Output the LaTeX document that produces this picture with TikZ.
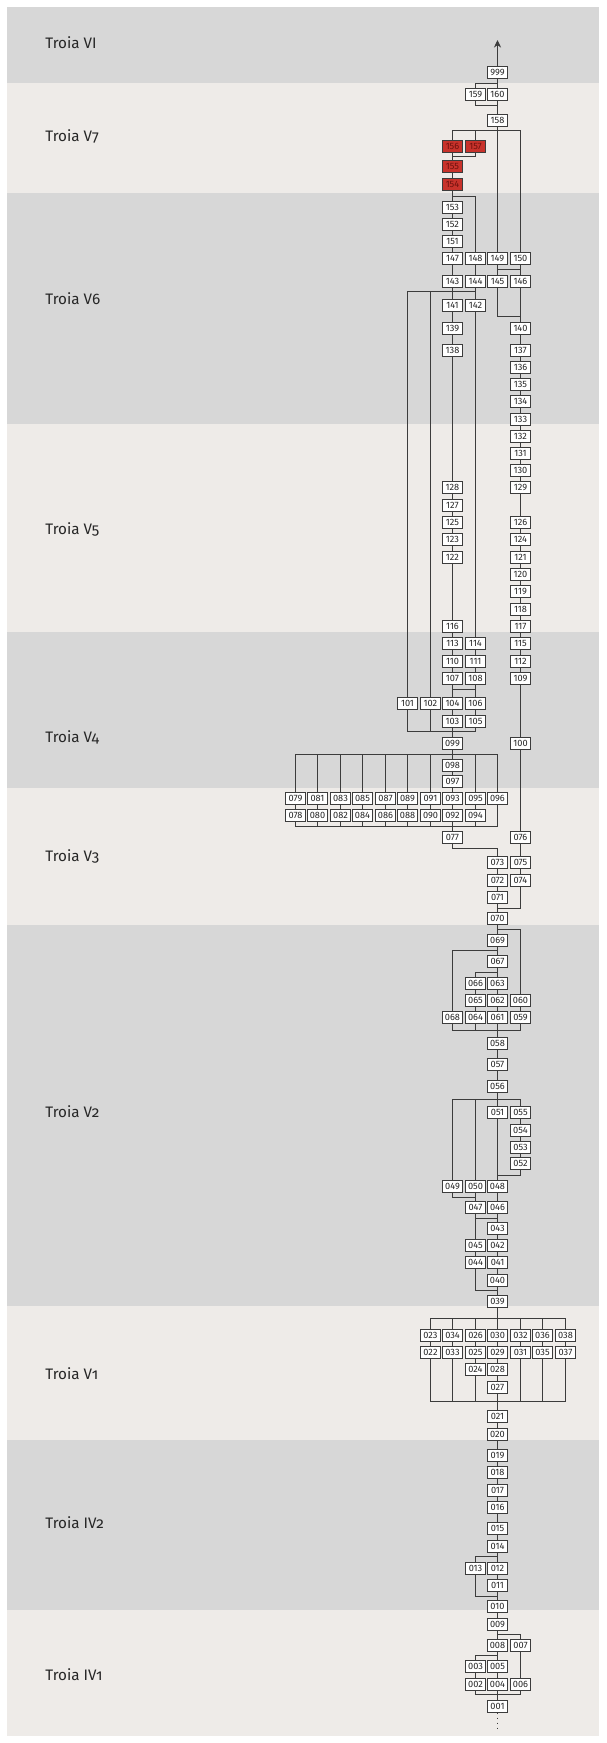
\documentclass[tikz,border=0pt]{standalone}
\usepackage{fontspec}
\setmainfont{Fira Sans}
\newfontfamily\labfont[Numbers=OldStyle]{Fira Sans}
\usetikzlibrary{arrows.meta}
\definecolor{bandg}{HTML}{D7D7D7}
\definecolor{bandl}{HTML}{EEEBE8}
\definecolor{linec}{HTML}{3C3C3C}
\definecolor{redf}{HTML}{C8322B}
\definecolor{redt}{HTML}{6E120E}
\tikzset{
  bx/.style={draw=linec, fill=white, line width=0.5pt, minimum width=10pt, minimum height=6pt,
    inner sep=0pt, outer sep=0pt, font=\fontsize{4.6pt}{5pt}\selectfont, text=black!85},
  rbx/.style={bx, fill=redf, text=redt},
  ln/.style={draw=linec, line width=0.5pt},
  lab/.style={anchor=base west, inner sep=0pt, font=\labfont\fontsize{7.6pt}{8pt}\selectfont, text=black!85}
}
\begin{document}
\begin{tikzpicture}[x=0.5pt,y=-0.5pt]
\useasboundingbox (0,0) rectangle (606,1743);
% bands
\fill[white] (0,0) rectangle (606,1743);
\fill[bandg] (7,7) rectangle (599,83);
\fill[bandl] (7,83) rectangle (599,193);
\fill[bandg] (7,193) rectangle (599,424);
\fill[bandl] (7,424) rectangle (599,632);
\fill[bandg] (7,632) rectangle (599,788);
\fill[bandl] (7,788) rectangle (599,925);
\fill[bandg] (7,925) rectangle (599,1306);
\fill[bandl] (7,1306) rectangle (599,1440);
\fill[bandg] (7,1440) rectangle (599,1610);
\fill[bandl] (7,1610) rectangle (599,1736);
% labels
\node[lab] (lVI) at (45,49) {Troia VI};
\node[lab] (lV7) at (45,142) {Troia V7};
\node[lab] (lV6) at (45,305) {Troia V6};
\node[lab] (lV5) at (45,534) {Troia V5};
\node[lab] (lV4) at (45,742) {Troia V4};
\node[lab] (lV3) at (45,861) {Troia V3};
\node[lab] (lV2) at (45,1117) {Troia V2};
\node[lab] (lV1) at (45,1379) {Troia V1};
\node[lab] (lIV2) at (45,1528) {Troia IV2};
\node[lab] (lIV1) at (45,1680) {Troia IV1};
% boxes
\node[bx] (b999) at (497.5,72.5) {999};
\node[bx] (b159) at (475.5,94.5) {159};
\node[bx] (b160) at (497.5,94.5) {160};
\node[bx] (b158) at (497.5,120.5) {158};
\node[rbx] (b156) at (452.5,146.5) {156};
\node[rbx] (b157) at (475.5,146.5) {157};
\node[rbx] (b155) at (452.5,166.5) {155};
\node[rbx] (b154) at (452.5,184.5) {154};
\node[bx] (b153) at (452.5,207.5) {153};
\node[bx] (b152) at (452.5,224.5) {152};
\node[bx] (b151) at (452.5,241.5) {151};
\node[bx] (b147) at (452.5,258.5) {147};
\node[bx] (b148) at (475.5,258.5) {148};
\node[bx] (b149) at (497.5,258.5) {149};
\node[bx] (b150) at (520.5,258.5) {150};
\node[bx] (b143) at (452.5,281.5) {143};
\node[bx] (b144) at (475.5,281.5) {144};
\node[bx] (b145) at (497.5,281.5) {145};
\node[bx] (b146) at (520.5,281.5) {146};
\node[bx] (b141) at (452.5,305.5) {141};
\node[bx] (b142) at (475.5,305.5) {142};
\node[bx] (b139) at (452.5,328.5) {139};
\node[bx] (b140) at (520.5,328.5) {140};
\node[bx] (b138) at (452.5,350.5) {138};
\node[bx] (b137) at (520.5,350.5) {137};
\node[bx] (b136) at (520.5,367.5) {136};
\node[bx] (b135) at (520.5,384.5) {135};
\node[bx] (b134) at (520.5,401.5) {134};
\node[bx] (b133) at (520.5,419.5) {133};
\node[bx] (b132) at (520.5,436.5) {132};
\node[bx] (b131) at (520.5,453.5) {131};
\node[bx] (b130) at (520.5,470.5) {130};
\node[bx] (b128) at (452.5,487.5) {128};
\node[bx] (b129) at (520.5,487.5) {129};
\node[bx] (b127) at (452.5,505.5) {127};
\node[bx] (b125) at (452.5,522.5) {125};
\node[bx] (b126) at (520.5,522.5) {126};
\node[bx] (b123) at (452.5,539.5) {123};
\node[bx] (b124) at (520.5,539.5) {124};
\node[bx] (b122) at (452.5,557.5) {122};
\node[bx] (b121) at (520.5,557.5) {121};
\node[bx] (b120) at (520.5,574.5) {120};
\node[bx] (b119) at (520.5,591.5) {119};
\node[bx] (b118) at (520.5,609.5) {118};
\node[bx] (b116) at (452.5,626.5) {116};
\node[bx] (b117) at (520.5,626.5) {117};
\node[bx] (b113) at (452.5,643.5) {113};
\node[bx] (b114) at (475.5,643.5) {114};
\node[bx] (b115) at (520.5,643.5) {115};
\node[bx] (b110) at (452.5,661.5) {110};
\node[bx] (b111) at (475.5,661.5) {111};
\node[bx] (b112) at (520.5,661.5) {112};
\node[bx] (b107) at (452.5,678.5) {107};
\node[bx] (b108) at (475.5,678.5) {108};
\node[bx] (b109) at (520.5,678.5) {109};
\node[bx] (b101) at (407.5,703.5) {101};
\node[bx] (b102) at (430.5,703.5) {102};
\node[bx] (b104) at (452.5,703.5) {104};
\node[bx] (b106) at (475.5,703.5) {106};
\node[bx] (b103) at (452.5,721.5) {103};
\node[bx] (b105) at (475.5,721.5) {105};
\node[bx] (b099) at (452.5,743.5) {099};
\node[bx] (b100) at (520.5,743.5) {100};
\node[bx] (b098) at (452.5,765.5) {098};
\node[bx] (b097) at (452.5,781.5) {097};
\node[bx] (b079) at (295.5,798.5) {079};
\node[bx] (b081) at (317.5,798.5) {081};
\node[bx] (b083) at (340.5,798.5) {083};
\node[bx] (b085) at (362.5,798.5) {085};
\node[bx] (b087) at (385.5,798.5) {087};
\node[bx] (b089) at (407.5,798.5) {089};
\node[bx] (b091) at (430.5,798.5) {091};
\node[bx] (b093) at (452.5,798.5) {093};
\node[bx] (b095) at (475.5,798.5) {095};
\node[bx] (b096) at (497.5,798.5) {096};
\node[bx] (b078) at (295.5,815.5) {078};
\node[bx] (b080) at (317.5,815.5) {080};
\node[bx] (b082) at (340.5,815.5) {082};
\node[bx] (b084) at (362.5,815.5) {084};
\node[bx] (b086) at (385.5,815.5) {086};
\node[bx] (b088) at (407.5,815.5) {088};
\node[bx] (b090) at (430.5,815.5) {090};
\node[bx] (b092) at (452.5,815.5) {092};
\node[bx] (b094) at (475.5,815.5) {094};
\node[bx] (b077) at (452.5,837.5) {077};
\node[bx] (b076) at (520.5,837.5) {076};
\node[bx] (b073) at (497.5,862.5) {073};
\node[bx] (b075) at (520.5,862.5) {075};
\node[bx] (b072) at (497.5,880.5) {072};
\node[bx] (b074) at (520.5,880.5) {074};
\node[bx] (b071) at (497.5,897.5) {071};
\node[bx] (b070) at (497.5,918.5) {070};
\node[bx] (b069) at (497.5,940.5) {069};
\node[bx] (b067) at (497.5,961.5) {067};
\node[bx] (b066) at (475.5,983.5) {066};
\node[bx] (b063) at (497.5,983.5) {063};
\node[bx] (b065) at (475.5,1000.5) {065};
\node[bx] (b062) at (497.5,1000.5) {062};
\node[bx] (b060) at (520.5,1000.5) {060};
\node[bx] (b068) at (452.5,1017.5) {068};
\node[bx] (b064) at (475.5,1017.5) {064};
\node[bx] (b061) at (497.5,1017.5) {061};
\node[bx] (b059) at (520.5,1017.5) {059};
\node[bx] (b058) at (497.5,1043.5) {058};
\node[bx] (b057) at (497.5,1064.5) {057};
\node[bx] (b056) at (497.5,1086.5) {056};
\node[bx] (b051) at (497.5,1112.5) {051};
\node[bx] (b055) at (520.5,1112.5) {055};
\node[bx] (b054) at (520.5,1130.5) {054};
\node[bx] (b053) at (520.5,1147.5) {053};
\node[bx] (b052) at (520.5,1163.5) {052};
\node[bx] (b049) at (452.5,1186.5) {049};
\node[bx] (b050) at (475.5,1186.5) {050};
\node[bx] (b048) at (497.5,1186.5) {048};
\node[bx] (b047) at (475.5,1207.5) {047};
\node[bx] (b046) at (497.5,1207.5) {046};
\node[bx] (b043) at (497.5,1228.5) {043};
\node[bx] (b045) at (475.5,1245.5) {045};
\node[bx] (b042) at (497.5,1245.5) {042};
\node[bx] (b044) at (475.5,1262.5) {044};
\node[bx] (b041) at (497.5,1262.5) {041};
\node[bx] (b040) at (497.5,1280.5) {040};
\node[bx] (b039) at (497.5,1301.5) {039};
\node[bx] (b023) at (430.5,1335.5) {023};
\node[bx] (b034) at (452.5,1335.5) {034};
\node[bx] (b026) at (475.5,1335.5) {026};
\node[bx] (b030) at (497.5,1335.5) {030};
\node[bx] (b032) at (520.5,1335.5) {032};
\node[bx] (b036) at (542.5,1335.5) {036};
\node[bx] (b038) at (565.5,1335.5) {038};
\node[bx] (b022) at (430.5,1352.5) {022};
\node[bx] (b033) at (452.5,1352.5) {033};
\node[bx] (b025) at (475.5,1352.5) {025};
\node[bx] (b029) at (497.5,1352.5) {029};
\node[bx] (b031) at (520.5,1352.5) {031};
\node[bx] (b035) at (542.5,1352.5) {035};
\node[bx] (b037) at (565.5,1352.5) {037};
\node[bx] (b024) at (475.5,1369.5) {024};
\node[bx] (b028) at (497.5,1369.5) {028};
\node[bx] (b027) at (497.5,1387.5) {027};
\node[bx] (b021) at (497.5,1416.5) {021};
\node[bx] (b020) at (497.5,1434.5) {020};
\node[bx] (b019) at (497.5,1455.5) {019};
\node[bx] (b018) at (497.5,1472.5) {018};
\node[bx] (b017) at (497.5,1490.5) {017};
\node[bx] (b016) at (497.5,1507.5) {016};
\node[bx] (b015) at (497.5,1528.5) {015};
\node[bx] (b014) at (497.5,1546.5) {014};
\node[bx] (b013) at (475.5,1568.5) {013};
\node[bx] (b012) at (497.5,1568.5) {012};
\node[bx] (b011) at (497.5,1585.5) {011};
\node[bx] (b010) at (497.5,1606.5) {010};
\node[bx] (b009) at (497.5,1624.5) {009};
\node[bx] (b008) at (497.5,1645.5) {008};
\node[bx] (b007) at (520.5,1645.5) {007};
\node[bx] (b003) at (475.5,1666.5) {003};
\node[bx] (b005) at (497.5,1666.5) {005};
\node[bx] (b002) at (475.5,1684.5) {002};
\node[bx] (b004) at (497.5,1684.5) {004};
\node[bx] (b006) at (520.5,1684.5) {006};
\node[bx] (b001) at (497.5,1706.5) {001};
\coordinate (top) at (497.5,40);
\coordinate (bot) at (497.5,1731);
% connectors
\draw[ln,-{Stealth[length=3.8pt,width=3.6pt]}] (b999) -- (top);
\draw[ln] (b999) -- (b160);
\draw[ln] (b159.north) |- (b999.south |- 0,83.5);
\draw[ln] (b160) -- (b158);
\draw[ln] (b159.south) |- (b158.north |- 0,105.5);
\draw[ln] (b156.north) |- (b150.north |- 0,130.5) -- (b150.north);
\draw[ln] (b157.north) -- (b157.north |- 0,130.5);
\draw[ln] (b158) -- (b149);
\draw[ln] (b156) -- (b155);
\draw[ln] (b157.south) |- (b155.north |- 0,156.5);
\draw[ln] (b155) -- (b154);
\draw[ln] (b154) -- (b153);
\draw[ln] (b154.south |- 0,196.5) -| (b148.north);
\draw[ln] (b153) -- (b152);
\draw[ln] (b152) -- (b151);
\draw[ln] (b151) -- (b147);
\draw[ln] (b147) -- (b143);
\draw[ln] (b148) -- (b144);
\draw[ln] (b149) -- (b145);
\draw[ln] (b150) -- (b146);
\draw[ln] (b149.south |- 0,269.5) -- (b150.south |- 0,269.5);
\draw[ln] (b101.north) |- (b142.north |- 0,291.5) -- (b142.north);
\draw[ln] (b102.north) -- (b102.north |- 0,291.5);
\draw[ln] (b143) -- (b141);
\draw[ln] (b144.south) -- (b144.south |- 0,291.5);
\draw[ln] (b145.south) |- (b140.north |- 0,316.5);
\draw[ln] (b146) -- (b140);
\foreach \a/\b in {141/139,139/138,138/128,128/127,127/125,125/123,123/122,122/116,116/113,113/110,110/107,
  142/114,114/111,111/108,
  140/137,137/136,136/135,135/134,134/133,133/132,132/131,131/130,130/129,129/126,126/124,124/121,121/120,
  120/119,119/118,118/117,117/115,115/112,112/109,109/100,100/076,076/075,075/074}
  {\draw[ln] (b\a) -- (b\b);}
\draw[ln] (b107) -- (b104);
\draw[ln] (b108) -- (b106);
\draw[ln] (b107.south |- 0,689.5) -- (b108.south |- 0,689.5);
\draw[ln] (b104) -- (b103);
\draw[ln] (b106) -- (b105);
\draw[ln] (b101.south) |- (b105.south |- 0,731.5) -- (b105.south);
\draw[ln] (b102.south) -- (b102.south |- 0,731.5);
\draw[ln] (b103) -- (b099);
\draw[ln] (b099) -- (b098);
\draw[ln] (b098) -- (b097);
\draw[ln] (b097) -- (b093);
\draw[ln] (b079.north) |- (b096.north |- 0,754.5) -- (b096.north);
\foreach \a in {081,083,085,087,089,091,095}
  {\draw[ln] (b\a.north) -- (b\a.north |- 0,754.5);}
\foreach \a/\b in {079/078,081/080,083/082,085/084,087/086,089/088,091/090,093/092,095/094}
  {\draw[ln] (b\a) -- (b\b);}
\draw[ln] (b078.south) |- (b096.south |- 0,826.5) -- (b096.south);
\foreach \a in {080,082,084,086,088,090,094}
  {\draw[ln] (b\a.south) -- (b\a.south |- 0,826.5);}
\draw[ln] (b092) -- (b077);
\draw[ln] (b077.south) |- (b073.north |- 0,848.5) -- (b073.north);
\draw[ln] (b073) -- (b072);
\draw[ln] (b072) -- (b071);
\draw[ln] (b071) -- (b070);
\draw[ln] (b074.south) |- (b071.south |- 0,908.5);
\draw[ln] (b070) -- (b069);
\draw[ln] (b070.south |- 0,929.5) -| (b060.north);
\draw[ln] (b068.north) |- (b069.south |- 0,950.5);
\draw[ln] (b069) -- (b067);
\draw[ln] (b066.north) |- (b067.south |- 0,972.5);
\draw[ln] (b067) -- (b063);
\foreach \a/\b in {066/065,065/064,063/062,062/061,060/059,061/058,058/057,057/056,056/051,051/048,
  055/054,054/053,053/052,050/047,048/046,046/043,047/045,043/042,042/041,041/040,040/039,045/044}
  {\draw[ln] (b\a) -- (b\b);}
\draw[ln] (b068.south) |- (b059.south |- 0,1030.5) -- (b059.south);
\draw[ln] (b064.south) -- (b064.south |- 0,1030.5);
\draw[ln] (b049.north) |- (b055.north |- 0,1099.5) -- (b055.north);
\draw[ln] (b050.north) -- (b050.north |- 0,1099.5);
\draw[ln] (b052.south) |- (b051.south |- 0,1175.5);
\draw[ln] (b049.south) |- (b050.south |- 0,1197.5);
\draw[ln] (b047.south |- 0,1218.5) -- (b046.south |- 0,1218.5);
\draw[ln] (b044.south) |- (b040.south |- 0,1290.5);
\draw[ln] (b023.north) |- (b038.north |- 0,1318.5) -- (b038.north);
\foreach \a in {034,026,032,036}
  {\draw[ln] (b\a.north) -- (b\a.north |- 0,1318.5);}
\foreach \a/\b in {039/030,023/022,034/033,026/025,030/029,032/031,036/035,038/037,025/024,029/028,028/027,027/021,
  021/020,020/019,019/018,018/017,017/016,016/015,015/014,014/012,012/011,011/010,010/009,009/008,008/005,
  003/002,005/004,007/006,004/001}
  {\draw[ln] (b\a) -- (b\b);}
\draw[ln] (b022.south) |- (b037.south |- 0,1401.5) -- (b037.south);
\foreach \a in {033,024,031,035}
  {\draw[ln] (b\a.south) -- (b\a.south |- 0,1401.5);}
\draw[ln] (b013.north) |- (b014.south |- 0,1556.5);
\draw[ln] (b013.south) |- (b011.south |- 0,1596.5);
\draw[ln] (b009.south |- 0,1634.5) -| (b007.north);
\draw[ln] (b003.north) |- (b008.south |- 0,1655.5);
\draw[ln] (b002.south) |- (b006.south |- 0,1694.5) -- (b006.south);
\draw[ln, dash pattern=on 0.6pt off 1.9pt] (b001) -- (bot);
\end{tikzpicture}
\end{document}
